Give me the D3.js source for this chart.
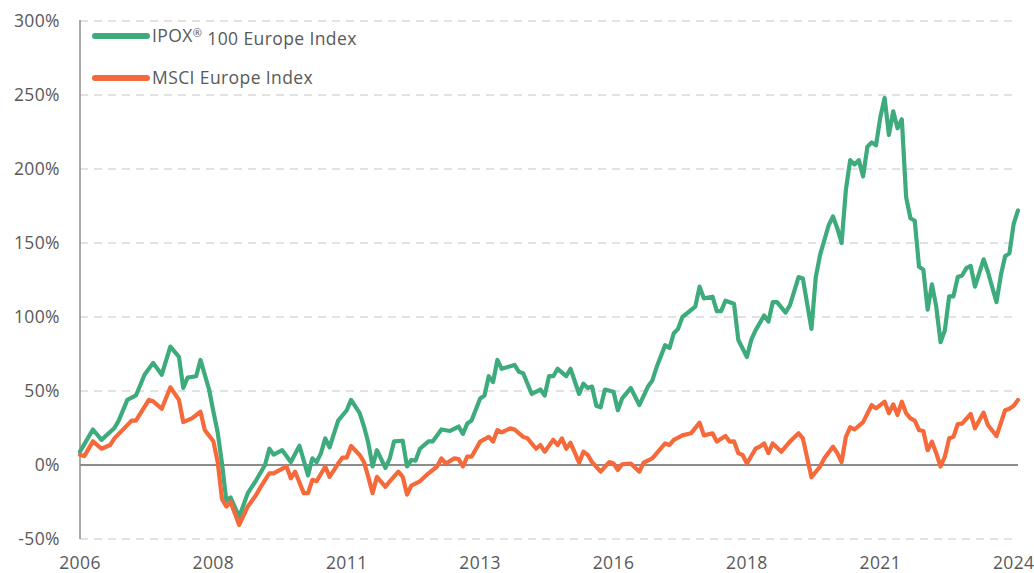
<!DOCTYPE html>
<html>
<head>
<meta charset="utf-8">
<script src="https://cdn.jsdelivr.net/npm/d3@7"></script>
<style>
  html, body { margin: 0; padding: 0; background: #fff; }
  svg { display: block; }
  text { font-family: "Open Sans", "DejaVu Sans", sans-serif; fill: #595959; letter-spacing: 0.4px; }
</style>
</head>
<body>
<svg id="chart" width="1034" height="573"></svg>
<script>
// ---- Data (month index from Jan 2006, value in % total return) ----
const seriesNames = ["IPOX® 100 Europe Index", "MSCI Europe Index"];
const seriesColors = ["#3dab7c", "#f5693a"];

const ipoxMonths = [0,3,5,8,9,11,13,15,17,19,21,23,24,25,27,28,30,31,32,33,34,35,37,39,41,43,44,45,47,49,51,53,54,55,56,57,58,60,62,63,65,66,67,68,69,71,72,73,75,76,77,78,79,81,82,84,86,88,89,90,91,93,94,95,96,97,98,101,102,103,105,107,108,109,110,111,113,114,116,117,118,119,120,121,122,124,125,126,128,130,132,133,134,136,137,138,139,140,143,144,145,147,148,149,150,152,153,155,156,157,159,160,161,162,164,165,167,168,170,171,172,174,175,176,177,178,179,180,181,182,183,184,185,186,187,188,189,190,191,192,193,194,195,196,197,198,199,200,201,202,203,204,205,206,207,208,210,211,213,214,215,216,217,218];
const ipoxValues = [9,24,17,25,30,44,47,61,69,61,80,73,52,59,60,71,51,36,22,1,-24,-22,-35,-19,-10,0,11,7,10,2,13,-7,4.5,2,8,18,12,30,37,44,35,26,15,-1,10,-2,4.5,16,16.4,-1,3.4,3,11,16,16,24,23,26,21,28,30,45,47,60,56,71,65,67.6,63,62,48,51,47,60,60,65,60,65,48,55,52,53,40,39,51,49.5,37,45,52,40.5,53,57,66,81,79,89,92,100,107,120.5,112.6,113.7,104,104,111,109,84.5,73,84.5,91,101,97,110,110,103,108,127,126,92,127,142,162,168,160,150,186,206,203,206,195,215,218,216,235,248,223,239,227.5,233.6,181,166.7,165,134,132,105,122,107,83,91,114,114,127,128,133,134.5,120.5,139,130.6,110,128,141,143,163,172];

const msciMonths = [0,1,3,5,7,8,12,13,16,17,19,21,23,24,26,28,29,31,32,33,34,35,37,39,41,42,44,45,48,49,50,52,53,54,55,57,58,60,61,62,63,65,66,67,68,69,71,72,74,75,76,77,79,81,83,84,85,87,88,89,90,91,93,95,96,97,98,100,101,103,104,106,107,108,110,111,112,113,114,116,117,118,119,121,123,124,125,126,128,130,131,133,136,137,138,140,142,144,145,147,148,150,151,152,153,154,155,157,158,159,160,161,163,165,167,168,170,172,173,175,176,177,178,179,180,182,184,185,187,188,189,190,191,192,193,194,195,196,197,198,199,200,201,202,203,204,205,207,208,210,211,213,215,216,217,218];
const msciValues = [7,6,16,11,13.5,18,30,30,44,43,38,52.5,44,29,31.5,36,23.6,16,2,-23,-28,-25,-40.5,-28,-20,-14.7,-5.6,-5.6,-1,-9,-4.5,-19,-19,-10,-11,-1,-8,1,5,5,12.8,6.8,2,-8,-19,-8,-14.7,-11,-4.5,-8,-20,-14,-11,-5.6,-1,4.5,1,4.5,4,-1,5.6,5.6,15.8,19,15.8,23.6,22,24.8,24,19,18,11,13.5,9,17,13.5,18,11,15,1.6,9,6.8,2,-4.5,2,1,-3.4,0.5,1,-4.5,1.6,4.5,14.6,13.5,17,20,21.4,28.6,20,21.4,15.8,19.6,15.8,16,8,6.8,1,11,12.4,14.6,8,14.6,9,15.8,21.4,18,-8.3,-1,4.5,12.4,8,2,19,25.5,24,29,40.5,38.3,42.8,35,41,33.8,42.8,35,31.5,30,23.6,23,10,15.8,8,-1,5.6,18,19,27.7,28,34.5,24.8,35.4,27,19.6,37,38,40,44];

const yTicks = [-50, 0, 50, 100, 150, 200, 250, 300];
const xTickMonths = [0, 31, 62, 93, 124, 155, 186, 217];
const xTickLabels = ["2006", "2008", "2011", "2013", "2016", "2018", "2021", "2024"];

// ---- Layout ----
const svg = d3.select("#chart");
const plotLeft = 80, plotRight = 1018, plotTop = 21, plotBottom = 539;
const fontSize = 17.5;

const x = d3.scaleLinear().domain([0, 218]).range([plotLeft, plotRight]);
const y = d3.scaleLinear().domain([-50, 300]).range([plotBottom, plotTop]);

// gridlines
svg.append("g").selectAll("line")
  .data(yTicks.filter(d => d !== 0))
  .join("line")
  .attr("x1", plotLeft).attr("x2", plotRight)
  .attr("y1", d => y(d)).attr("y2", d => y(d))
  .attr("stroke", "#d9d9d9")
  .attr("stroke-width", 1.5)
  .attr("stroke-dasharray", "8,6");

// zero line
svg.append("line")
  .attr("x1", plotLeft).attr("x2", plotRight)
  .attr("y1", y(0)).attr("y2", y(0))
  .attr("stroke", "#8c8c8c").attr("stroke-width", 2);

// y axis line
svg.append("line")
  .attr("x1", plotLeft).attr("x2", plotLeft)
  .attr("y1", y(300) - 1).attr("y2", y(-50))
  .attr("stroke", "#8c8c8c").attr("stroke-width", 1.5);

// y labels
svg.append("g").selectAll("text")
  .data(yTicks)
  .join("text")
  .attr("x", 60)
  .attr("y", d => y(d))
  .attr("dy", "0.36em")
  .attr("text-anchor", "end")
  .attr("font-size", fontSize)
  .text(d => d + "%");

// x labels
svg.append("g").selectAll("text")
  .data(xTickMonths)
  .join("text")
  .attr("x", d => x(d))
  .attr("y", 569)
  .attr("text-anchor", "middle")
  .attr("font-size", fontSize)
  .text((d, i) => xTickLabels[i]);

// lines
const line = d3.line().x(d => x(d[0])).y(d => y(d[1]));
const ipoxData = ipoxMonths.map((m, i) => [m, ipoxValues[i]]);
const msciData = msciMonths.map((m, i) => [m, msciValues[i]]);

[ipoxData, msciData].forEach((data, i) => {
  svg.append("path")
    .datum(data)
    .attr("d", line)
    .attr("fill", "none")
    .attr("stroke", seriesColors[i])
    .attr("stroke-width", 4.2)
    .attr("stroke-linejoin", "round")
    .attr("stroke-linecap", "round");
});

// legend
const legendY = [36, 78];
const legend = svg.append("g");
seriesNames.forEach((name, i) => {
  legend.append("line")
    .attr("x1", 95).attr("x2", 147)
    .attr("y1", legendY[i]).attr("y2", legendY[i])
    .attr("stroke", seriesColors[i])
    .attr("stroke-width", 6)
    .attr("stroke-linecap", "round");
  const t = legend.append("text")
    .attr("x", 152)
    .attr("y", legendY[i])
    .attr("dy", "0.36em")
    .attr("font-size", fontSize);
  if (name.includes("®")) {
    const parts = name.split("®");
    t.append("tspan").text(parts[0]);
    t.append("tspan").attr("font-size", 11).attr("dy", "-0.45em").text("®");
    t.append("tspan").attr("dy", "0.45em").text(parts[1]);
  } else {
    t.text(name);
  }
});
</script>
</body>
</html>
